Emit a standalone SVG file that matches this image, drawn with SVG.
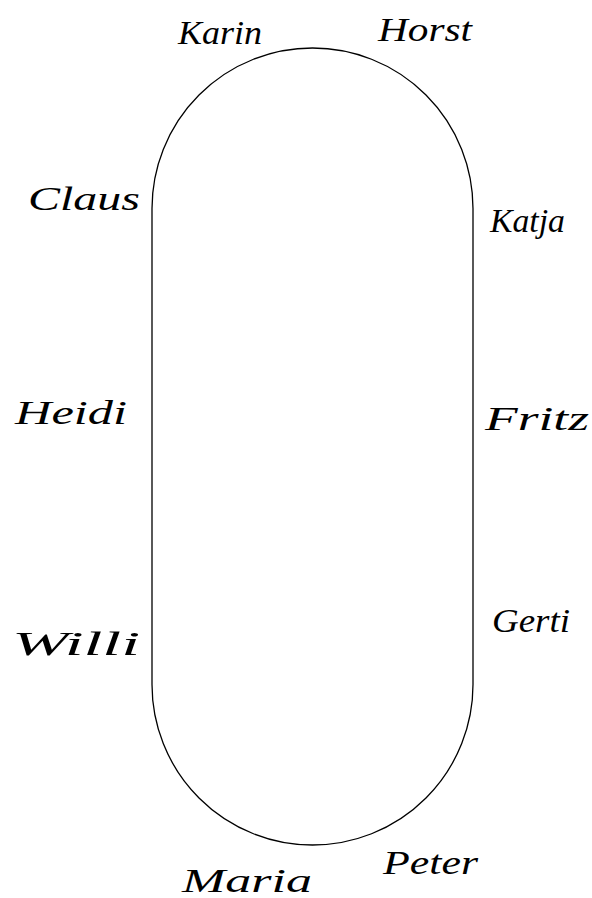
<svg xmlns="http://www.w3.org/2000/svg" width="592" height="898" viewBox="0 0 592 898">
<style>
.n{font-family:"Liberation Serif","DejaVu Serif",serif;font-style:italic;font-size:34px;fill:#000}
.o{fill:none;stroke:#000;stroke-width:1.3}
</style>
<rect width="592" height="898" fill="#fff"/>
<g id="table"><rect class="o" x="152" y="48" width="321" height="797" rx="160.5" ry="160.5"/></g>
<g id="karin"><text class="n" x="178" y="44" textLength="84" lengthAdjust="spacingAndGlyphs">Karin</text></g>
<g id="horst"><text class="n" x="378" y="41" textLength="94" lengthAdjust="spacingAndGlyphs">Horst</text></g>
<g id="claus"><text class="n" x="28" y="210" textLength="112" lengthAdjust="spacingAndGlyphs">Claus</text></g>
<g id="katja"><text class="n" x="490" y="232" textLength="75" lengthAdjust="spacingAndGlyphs">Katja</text></g>
<g id="heidi"><text class="n" x="15" y="424" textLength="112" lengthAdjust="spacingAndGlyphs">Heidi</text></g>
<g id="fritz"><text class="n" x="485" y="430" textLength="104" lengthAdjust="spacingAndGlyphs">Fritz</text></g>
<g id="willi"><text class="n" x="12" y="655" textLength="128" lengthAdjust="spacingAndGlyphs">Willi</text></g>
<g id="gerti"><text class="n" x="492" y="632" textLength="78" lengthAdjust="spacingAndGlyphs">Gerti</text></g>
<g id="maria"><text class="n" x="182" y="892" textLength="130" lengthAdjust="spacingAndGlyphs">Maria</text></g>
<g id="peter"><text class="n" x="383" y="874" textLength="95" lengthAdjust="spacingAndGlyphs">Peter</text></g>
</svg>
